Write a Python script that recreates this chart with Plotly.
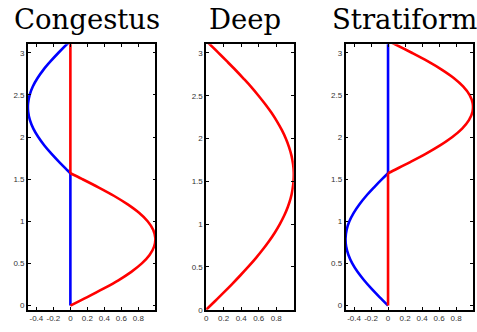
import plotly.graph_objects as go

# Height levels (vertical coordinate) for the lower and upper halves of the column
z_lower = [0.00, 0.10, 0.20, 0.30, 0.40, 0.50, 0.60, 0.70, 0.80, 0.90, 1.00,
           1.10, 1.20, 1.30, 1.40, 1.50, 1.57]
z_upper = [1.57, 1.60, 1.70, 1.80, 1.90, 2.00, 2.10, 2.20, 2.30, 2.40, 2.50,
           2.60, 2.70, 2.80, 2.90, 3.00, 3.10, 3.14]
z_full = [0.00, 0.10, 0.20, 0.30, 0.40, 0.50, 0.60, 0.70, 0.80, 0.90, 1.00,
          1.10, 1.20, 1.30, 1.40, 1.50, 1.60, 1.70, 1.80, 1.90, 2.00, 2.10,
          2.20, 2.30, 2.40, 2.50, 2.60, 2.70, 2.80, 2.90, 3.00, 3.10, 3.14]

# Congestus: heating lobe low, cooling lobe aloft
congestus_heat = [0.000, 0.199, 0.389, 0.565, 0.717, 0.841, 0.932, 0.985, 1.000,
                  0.974, 0.909, 0.808, 0.675, 0.516, 0.335, 0.141, 0.000]
congestus_cool = [0.000, -0.029, -0.128, -0.221, -0.306, -0.378, -0.436, -0.476,
                  -0.497, -0.498, -0.479, -0.442, -0.386, -0.316, -0.232, -0.140,
                  -0.042, 0.000]

# Deep: single full-column heating lobe
deep_heat = [0.000, 0.100, 0.199, 0.296, 0.389, 0.479, 0.565, 0.644, 0.717, 0.783,
             0.841, 0.891, 0.932, 0.964, 0.985, 0.997, 1.000, 0.992, 0.974, 0.946,
             0.909, 0.863, 0.808, 0.746, 0.675, 0.598, 0.516, 0.427, 0.335, 0.239,
             0.141, 0.042, 0.000]

# Stratiform: cooling lobe low, heating lobe aloft
strat_cool = [0.000, -0.100, -0.195, -0.282, -0.359, -0.421, -0.466, -0.493, -0.500,
              -0.487, -0.455, -0.404, -0.338, -0.258, -0.167, -0.071, 0.000]
strat_heat = [0.000, 0.058, 0.255, 0.443, 0.612, 0.757, 0.872, 0.952, 0.994, 0.996,
              0.959, 0.883, 0.773, 0.631, 0.465, 0.279, 0.083, 0.000]

titles = ["Congestus", "Deep", "Stratiform"]
x_ticks_wide = [-0.4, -0.2, 0, 0.2, 0.4, 0.6, 0.8]
x_ticks_deep = [0, 0.2, 0.4, 0.6, 0.8]
y_ticks = [0, 0.5, 1, 1.5, 2, 2.5, 3]

W, H = 477, 332
RED, BLUE = "#ff0000", "#0000ff"
LW = 2.6

fig = go.Figure()


def add(x, y, color, axis, smooth=True):
    fig.add_trace(go.Scatter(
        x=x, y=y, mode="lines", xaxis="x" + axis, yaxis="y" + axis,
        line=dict(color=color, width=LW, shape="spline" if smooth else "linear",
                  smoothing=1.0),
        showlegend=False, hoverinfo="skip"))


# Congestus
add([0, 0], [z_lower[0], z_lower[-1]], BLUE, "", smooth=False)
add(congestus_cool, z_upper, BLUE, "")
add([0, 0], [z_upper[0], z_upper[-1]], RED, "", smooth=False)
add(congestus_heat, z_lower, RED, "")

# Deep
add(deep_heat, z_full, RED, "2")

# Stratiform
add(strat_cool, z_lower, BLUE, "3")
add([0, 0], [z_upper[0], z_upper[-1]], BLUE, "3", smooth=False)
add([0, 0], [z_lower[0], z_lower[-1]], RED, "3", smooth=False)
add(strat_heat, z_upper, RED, "3")

panels = [(26, 154), (205, 293), (345, 473)]
top_px, bot_px = 45, 314.5
tick_font = dict(family="Liberation Sans, Arial, sans-serif", size=8, color="#333333")

axis_common = dict(showline=True, linecolor="black", linewidth=1.5, mirror="allticks",
                   ticks="inside", ticklen=3, tickwidth=1, tickcolor="black",
                   showgrid=False, zeroline=False, tickfont=tick_font, fixedrange=True)

layout = dict(width=W, height=H, margin=dict(l=0, r=0, t=0, b=0),
              paper_bgcolor="white", plot_bgcolor="white")

annotations = []
for i, (x0, x1) in enumerate(panels):
    sfx = "" if i == 0 else str(i + 1)
    xt = x_ticks_deep if i == 1 else x_ticks_wide
    xr = [0, 1] if i == 1 else [-0.5, 1]
    yr = [0, 3.1] if i == 1 else [-0.05, 3.1]
    layout["xaxis" + sfx] = dict(axis_common, domain=[x0 / W, x1 / W], range=xr,
                                 tickvals=xt, ticktext=[f"{v:g}" for v in xt],
                                 anchor="y" + sfx)
    layout["yaxis" + sfx] = dict(axis_common, domain=[1 - bot_px / H, 1 - top_px / H],
                                 range=yr, tickvals=y_ticks,
                                 ticktext=[f"{v:g}" for v in y_ticks],
                                 anchor="x" + sfx)
    annotations.append(dict(text=titles[i], x=((x0 + x1) / 2 - 5) / W, y=1 - 19 / H,
                            xref="paper", yref="paper", xanchor="center", yanchor="middle",
                            showarrow=False,
                            font=dict(family="DejaVu Serif, serif", size=27.5,
                                      color="black")))

layout["annotations"] = annotations
fig.update_layout(**layout)
fig.write_html("out.html")
